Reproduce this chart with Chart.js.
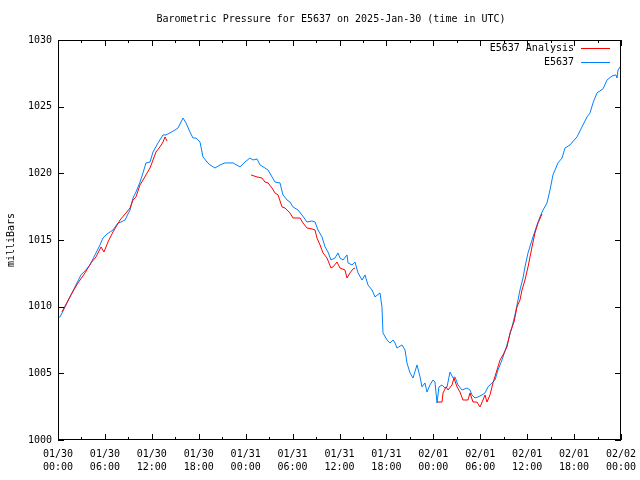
<!DOCTYPE html>
<html>
<head>
<meta charset="utf-8">
<script src="https://cdn.jsdelivr.net/npm/chart.js@4"></script>
<style>
html,body{margin:0;padding:0;background:#fff;}
canvas{display:block;}
</style>
</head>
<body>
<canvas id="c" width="640" height="480"></canvas>
<script>
// ---- Data (hours since 2025-01-30 00:00 UTC, pressure in mbar) ----
const tickLabels = [
  ["01/30","00:00"],["01/30","06:00"],["01/30","12:00"],["01/30","18:00"],
  ["01/31","00:00"],["01/31","06:00"],["01/31","12:00"],["01/31","18:00"],
  ["02/01","00:00"],["02/01","06:00"],["02/01","12:00"],["02/01","18:00"],
  ["02/02","00:00"]
];
const yTicks = [1000,1005,1010,1015,1020,1025,1030];

const stationHours = [0.13,0.26,0.90,1.66,2.17,2.94,3.45,4.09,4.73,5.37,5.75,6.27,6.65,7.03,7.67,8.06,8.57,9.21,9.59,9.97,10.49,10.87,11.25,11.77,12.15,12.79,13.43,13.81,14.32,14.96,15.35,15.99,16.37,16.88,17.26,17.65,18.16,18.54,19.06,19.44,20.08,20.72,21.36,22.38,23.28,23.91,24.55,24.94,25.45,25.83,26.47,26.86,27.37,27.75,28.39,28.77,29.29,29.67,30.05,30.69,31.20,31.84,32.48,32.87,33.25,33.76,34.15,34.53,34.91,35.42,35.81,36.06,36.45,36.96,37.09,37.60,37.98,38.37,38.88,39.26,39.64,40.16,40.54,41.18,41.43,41.56,42.07,42.46,42.84,43.10,43.35,43.99,44.38,44.63,45.02,45.40,45.91,46.30,46.55,46.93,47.19,47.57,47.96,48.21,48.47,48.72,49.11,49.49,49.75,50.13,50.52,50.77,51.15,51.67,52.31,52.69,52.94,53.33,53.71,54.22,54.61,54.99,55.50,55.89,56.27,56.78,57.42,58.06,58.44,58.83,59.08,59.47,59.72,60.11,60.62,61.26,61.64,62.03,62.54,62.92,63.30,63.94,64.46,64.84,65.48,66.37,67.01,67.65,68.04,68.42,68.93,69.70,70.21,70.85,71.36,71.49,71.62,71.87];
const stationMbar = [1009.23,1009.23,1009.98,1010.88,1011.48,1012.38,1012.68,1013.13,1013.88,1014.63,1015.15,1015.45,1015.60,1015.75,1016.28,1016.35,1016.50,1017.25,1018.15,1018.60,1019.35,1020.03,1020.78,1020.85,1021.60,1022.28,1022.88,1022.88,1023.03,1023.25,1023.40,1024.15,1023.78,1023.10,1022.65,1022.65,1022.35,1021.23,1020.85,1020.63,1020.40,1020.63,1020.78,1020.78,1020.48,1020.85,1021.15,1021.00,1021.08,1020.63,1020.40,1020.25,1019.73,1019.35,1019.28,1018.38,1018.00,1017.85,1017.48,1017.25,1016.88,1016.35,1016.43,1016.35,1015.75,1015.23,1014.48,1014.10,1013.50,1013.65,1014.03,1013.65,1013.50,1013.88,1013.28,1013.13,1013.35,1012.53,1012.00,1012.38,1011.63,1011.25,1010.73,1011.03,1009.98,1008.03,1007.50,1007.28,1007.50,1007.28,1006.90,1007.13,1006.75,1005.78,1005.03,1004.65,1005.63,1004.73,1003.98,1004.28,1003.60,1004.13,1004.50,1004.35,1002.78,1003.98,1004.13,1003.90,1003.98,1005.10,1004.65,1004.73,1004.13,1003.75,1003.90,1003.75,1003.38,1003.15,1003.23,1003.38,1003.53,1003.98,1004.28,1004.50,1005.25,1006.00,1007.13,1008.48,1009.38,1010.50,1011.25,1012.15,1012.98,1014.03,1015.00,1016.13,1016.73,1017.25,1017.78,1018.75,1019.88,1020.78,1021.15,1021.90,1022.13,1022.73,1023.48,1024.23,1024.53,1025.28,1026.03,1026.33,1027.00,1027.30,1027.38,1027.15,1027.75,1027.98];

// null entries mark gaps in the analysis series
const analysisHours = [0.51,0.77,1.66,2.56,3.45,4.22,4.86,5.50,5.88,6.39,7.03,7.93,8.70,9.21,9.59,9.97,10.49,10.87,11.25,11.77,12.15,12.53,13.04,13.43,13.68,13.94,
  19.0,
  24.68,25.45,26.09,26.47,26.86,27.37,27.75,28.14,28.65,29.03,29.67,30.05,30.95,31.33,31.84,32.48,32.87,33.12,33.51,33.89,34.40,34.91,35.17,35.68,36.06,36.70,36.96,37.34,37.73,37.98,
  43.0,
  48.47,49.11,49.24,49.62,49.88,50.39,50.64,51.03,51.41,51.79,52.43,52.69,53.07,53.58,53.97,54.35,54.61,54.86,55.25,55.63,56.14,56.53,56.91,57.42,57.81,58.32,58.70,59.08,59.34,59.72,60.11,60.62,61.00,61.39,61.90];
const analysisMbar = [1009.60,1009.90,1010.88,1011.78,1012.53,1013.28,1013.73,1014.48,1014.10,1014.85,1015.60,1016.50,1017.03,1017.40,1018.00,1018.23,1019.13,1019.50,1019.88,1020.40,1021.00,1021.60,1021.98,1022.35,1022.73,1022.43,
  null,
  1019.88,1019.73,1019.65,1019.35,1019.28,1018.90,1018.53,1018.38,1017.48,1017.40,1017.03,1016.65,1016.65,1016.28,1015.90,1015.83,1015.75,1015.15,1014.63,1014.03,1013.65,1012.90,1012.98,1013.35,1012.90,1012.75,1012.15,1012.53,1012.83,1012.90,
  null,
  1002.85,1002.85,1003.53,1003.98,1003.75,1004.13,1004.65,1003.98,1003.60,1003.00,1003.00,1003.53,1002.85,1002.85,1002.48,1003.00,1003.38,1002.85,1003.38,1004.28,1005.25,1006.00,1006.38,1006.98,1008.03,1008.85,1009.98,1010.50,1011.25,1012.00,1012.98,1014.48,1015.53,1016.28,1016.95];

const seriesNames = ["E5637 Analysis","E5637"];
const seriesColors = ["#ff0000","#0080ff"];
const titleText = "Barometric Pressure for E5637 on 2025-Jan-30 (time in UTC)";
const yTitle = "milliBars";

const FONT = "DejaVu Sans Mono";
const FS = 10;

const toXY = (xs, ys) => xs.map((x,i)=>({x:x, y:ys[i]}));

const decor = {
  id:'decor',
  afterDraw(chart){
    const ctx = chart.ctx, a = chart.chartArea;
    const xs = chart.scales.x, ys = chart.scales.y;
    ctx.save();
    ctx.strokeStyle = '#000'; ctx.lineWidth = 1;
    // border
    ctx.strokeRect(Math.round(a.left)+0.5, Math.round(a.top)+0.5, Math.round(a.right-a.left)-1, Math.round(a.bottom-a.top)-1);
    ctx.beginPath();
    // x ticks (major every 6h, minor every 3h), on bottom and top, inward
    for (let h=0; h<=72; h+=3){
      const px = Math.round(xs.getPixelForValue(h))+0.5;
      const len = (h%6===0)?6:3;
      ctx.moveTo(px, a.bottom); ctx.lineTo(px, a.bottom-len);
      ctx.moveTo(px, a.top); ctx.lineTo(px, a.top+len);
    }
    // y ticks left and right, inward
    yTicks.forEach(v=>{
      const py = Math.round(ys.getPixelForValue(v))+0.5;
      ctx.moveTo(a.left, py); ctx.lineTo(a.left+6, py);
      ctx.moveTo(a.right, py); ctx.lineTo(a.right-6, py);
    });
    ctx.stroke();
    // title
    ctx.fillStyle = '#000';
    ctx.font = FS + 'px "' + FONT + '"';
    ctx.textAlign = 'center'; ctx.textBaseline = 'middle';
    ctx.fillText(titleText, 331, 19);
    // y title
    ctx.save();
    ctx.translate(11, 240);
    ctx.rotate(-Math.PI/2);
    ctx.fillText(yTitle, 0, 0);
    ctx.restore();
    // legend
    ctx.textAlign = 'right';
    chart.data.datasets.forEach((ds,i)=>{
      const yy = 48 + i*14;
      ctx.fillStyle = '#000';
      ctx.fillText(ds.label, 574, yy);
      ctx.strokeStyle = ds.borderColor;
      ctx.beginPath();
      ctx.moveTo(581, yy+0.5); ctx.lineTo(610, yy+0.5);
      ctx.stroke();
    });
    ctx.restore();
  }
};

new Chart(document.getElementById('c'), {
  type: 'line',
  data: {
    datasets: [
      { label: seriesNames[0], data: toXY(analysisHours, analysisMbar), borderColor: seriesColors[0], borderWidth: 1, pointRadius: 0, tension: 0, spanGaps: false, fill: false },
      { label: seriesNames[1], data: toXY(stationHours, stationMbar), borderColor: seriesColors[1], borderWidth: 1, pointRadius: 0, tension: 0, fill: false }
    ]
  },
  options: {
    responsive: false,
    devicePixelRatio: 1,
    animation: false,
    layout: { padding: { left: 0, right: 19, top: 40, bottom: 0 } },
    plugins: { legend: { display: false }, title: { display: false }, tooltip: { enabled: false } },
    scales: {
      x: {
        type: 'linear', min: 0, max: 72,
        grid: { display: false, drawTicks: false },
        border: { display: false },
        afterFit(s){ s.height = 40; s.paddingLeft = 0; s.paddingRight = 0; },
        ticks: {
          stepSize: 6, autoSkip: false, maxRotation: 0, padding: 8,
          color: '#000', font: { family: FONT, size: FS, lineHeight: 1.3 },
          callback: (v) => (v % 6 === 0) ? tickLabels[v/6] : ''
        }
      },
      y: {
        min: 1000, max: 1030,
        grid: { display: false, drawTicks: false },
        border: { display: false },
        afterFit(s){ s.width = 58; s.paddingTop = 0; s.paddingBottom = 0; },
        afterBuildTicks(s){ s.ticks = yTicks.map(v=>({value:v})); },
        ticks: { padding: 6, color: '#000', font: { family: FONT, size: FS }, callback: (v) => String(v) }
      }
    }
  },
  plugins: [decor]
});
</script>
</body>
</html>
